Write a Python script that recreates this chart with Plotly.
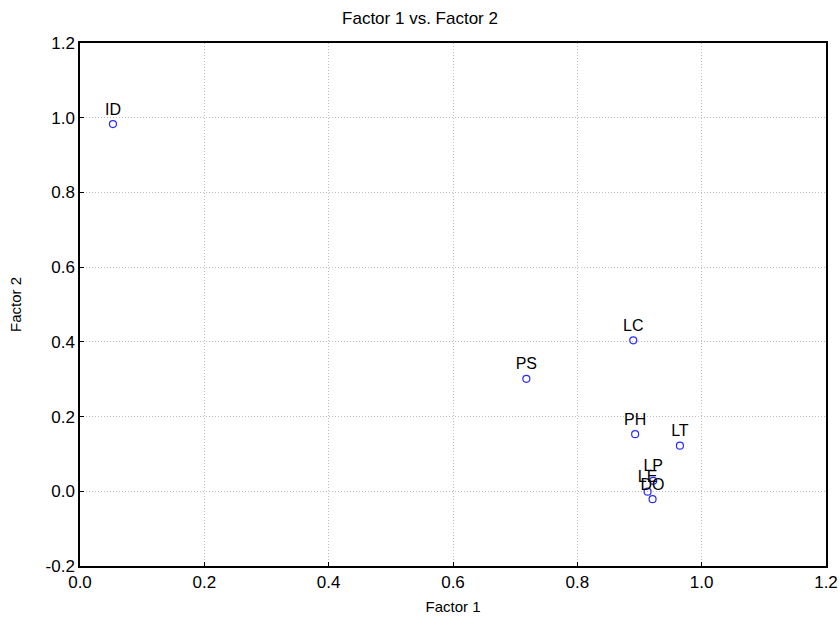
import plotly.graph_objects as go

# Factor loadings for each variable
labels = ["ID", "PS", "LC", "PH", "LT", "LP", "LE", "DO"]
factor1 = [0.053, 0.718, 0.890, 0.893, 0.965, 0.922, 0.913, 0.921]
factor2 = [0.983, 0.301, 0.404, 0.153, 0.122, 0.028, -0.001, -0.021]

x_ticks = [0.0, 0.2, 0.4, 0.6, 0.8, 1.0, 1.2]
y_ticks = [-0.2, 0.0, 0.2, 0.4, 0.6, 0.8, 1.0, 1.2]

font_family = "Arial, Liberation Sans, sans-serif"

fig = go.Figure(
    go.Scatter(
        x=factor1,
        y=factor2,
        mode="markers+text",
        text=labels,
        textposition="top center",
        textfont=dict(family=font_family, size=16, color="black"),
        marker=dict(symbol="circle-open", size=7, color="#2a2aff", line=dict(width=1.2)),
        cliponaxis=False,
        hoverinfo="skip",
    )
)

axis_common = dict(
    showline=True,
    linecolor="black",
    linewidth=1.5,
    mirror=True,
    ticks="inside",
    ticklen=4,
    tickcolor="black",
    showgrid=True,
    gridcolor="#bdbdbd",
    griddash="1px,2px",
    gridwidth=1,
    zeroline=False,
    automargin=False,
    tickfont=dict(family=font_family, size=17, color="black"),
    title_font=dict(family=font_family, size=15, color="black"),
)

fig.update_xaxes(
    range=[0.0, 1.2],
    tickvals=x_ticks,
    ticktext=[f"{v:.1f}" for v in x_ticks],
    title_text="Factor 1",
    title_standoff=10,
    **axis_common,
)
fig.update_yaxes(
    range=[-0.2, 1.2],
    tickvals=y_ticks,
    ticktext=[f"{v:.1f}" for v in y_ticks],
    title_text="Factor 2",
    title_standoff=20,
    **axis_common,
)

fig.update_layout(
    width=840,
    height=626,
    margin=dict(l=80, r=14, t=43, b=60),
    paper_bgcolor="white",
    plot_bgcolor="white",
    showlegend=False,
    title=dict(
        text="Factor 1 vs. Factor 2",
        x=0.5,
        xref="container",
        xanchor="center",
        y=0.971,
        yanchor="middle",
        font=dict(family=font_family, size=17, color="black"),
    ),
)

fig.write_html("out.html")
